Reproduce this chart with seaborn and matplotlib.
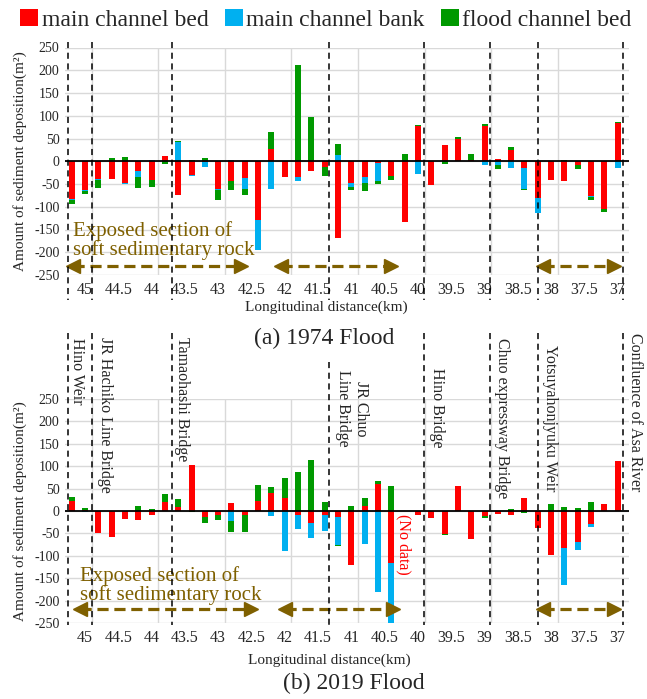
import numpy as np
import pandas as pd
import matplotlib
matplotlib.use("Agg")
import matplotlib.pyplot as plt
import matplotlib.transforms as mtransforms
from matplotlib.lines import Line2D
from matplotlib.patches import Patch
import seaborn as sns

# distance of each cross section (km)
km = [45.2, 45.0, 44.8, 44.6, 44.4, 44.2, 44.0, 43.8, 43.6, 43.4, 43.2, 43.0, 42.8, 42.6,
      42.4, 42.2, 42.0, 41.8, 41.6, 41.4, 41.2, 41.0, 40.8, 40.6, 40.4, 40.2, 40.0, 39.8,
      39.6, 39.4, 39.2, 39.0, 38.8, 38.6, 38.4, 38.2, 38.0, 37.8, 37.6, 37.4, 37.2, 37.0]

# 1974 flood
bed_1974 = [-82, -63, -38, -39, -47, -21, -42, 12, -75, -31, -2, -61, -44, -37,
            -130, 27, -35, -34, -22, -12, -169, -48, -35, -4, -32, -134, 77, -53,
            35, 50, 2, 78, 5, 25, -15, -80, -42, -44, -9, -76, -105, 83]
bank_1974 = [-4, -3, -4, 0, -4, -13, 3, 0, 42, -1, -10, -2, 2, -25,
             -64, -60, 0, -10, 0, 0, 13, -8, -13, -39, 0, 0, -28, 0,
             0, 0, 0, -8, -8, -15, -45, -34, 0, 0, 0, -3, 0, -14]
flood_1974 = [-9, -5, -16, 8, 10, -24, -15, -5, 3, 2, 7, -22, -20, -13,
              0, 38, 0, 212, 98, -20, 26, -7, -18, -7, -10, 15, 3, 0,
              -5, 3, 15, 4, -10, 6, -3, 0, 0, 3, -7, -6, -7, 3]

# 2019 flood (40.2 km: no data)
bed_2019 = [22, 3, -50, -59, -17, -21, -8, 21, 8, 102, -13, -10, 18, -8,
            23, 40, 30, -10, -27, -8, -13, -120, 12, 60, -116, 0, -8, -15,
            -52, 55, -62, -12, -6, -8, 30, -37, -98, -83, -70, -28, 16, 112]
bank_2019 = [0, -2, 0, 0, 0, 0, 0, 0, 0, 0, 0, 0, -23, 0,
             0, -12, -90, -30, -33, -37, -62, 0, -73, -181, -150, 0, 0, 0,
             0, 0, 0, 0, 0, 0, 0, 0, 0, -82, -16, -7, 0, 0]
flood_2019 = [10, 3, 0, 0, 0, 12, 5, 16, 19, -3, -13, -10, -23, -38,
              34, 14, 43, 87, 114, 20, -3, 12, 18, 8, 55, 0, 0, 0,
              -2, 0, 0, -3, 0, 5, -5, 0, 15, 9, 7, 21, 0, 0]

tick_km = [45, 44.5, 44, 43.5, 43, 42.5, 42, 41.5, 41, 40.5, 40, 39.5, 39, 38.5, 38, 37.5, 37]
tick_labels = ["45", "44.5", "44", "43.5", "43", "42.5", "42", "41.5", "41", "40.5",
               "40", "39.5", "39", "38.5", "38", "37.5", "37"]
grid_km = [44.9, 43.9, 42.9, 41.9, 40.9, 39.9, 38.9, 37.9]

landmarks = ["Hino Weir", "JR Hachiko Line Bridge", "Tamaohashi Bridge", "JR Chuo\nLine Bridge",
             "Hino Bridge", "Chuo expressway Bridge", "Yotsuyahonjyuku Weir", "Confluence of Asa River"]
landmark_km = [45.26, 44.89, 43.70, 41.34, 39.91, 38.91, 38.19, 36.92]

series = ["main channel bed", "main channel bank", "flood channel bed"]
colors = ["#FF0000", "#00B0F0", "#009900"]

sns.set_theme(style="white")
plt.rcParams["font.family"] = ["Liberation Serif", "DejaVu Serif"]
plt.rcParams["axes.unicode_minus"] = False

W, H = 647, 699
fig = plt.figure(figsize=(W / 100, H / 100), dpi=100)
ax_a = fig.add_axes([65 / W, 1 - 275 / H, 564 / W, 227.5 / H])
ax_b = fig.add_axes([65 / W, 1 - 623 / H, 564 / W, 224 / H])

brown = "#7F6000"


def draw_panel(ax, bed, bank, flood):
    vals = np.array([bed, bank, flood], dtype=float)
    pos = np.cumsum(np.clip(vals, 0, None), axis=0)
    neg = np.cumsum(np.clip(vals, None, 0), axis=0)
    # outermost layer first so the inner layers sit on top of it
    for i in [2, 1, 0]:
        for stack in (pos, neg):
            df = pd.DataFrame({"km": km, "v": stack[i]})
            sns.barplot(data=df, x="km", y="v", native_scale=True, width=0.45,
                        color=colors[i], saturation=1, errorbar=None,
                        linewidth=0, edgecolor="none", ax=ax)
    ax.axhline(0, color="black", lw=1.3, zorder=3)
    ax.set_xlim(45.3, 36.83)
    ax.set_ylim(-250, 250)
    ax.set_yticks(range(-250, 251, 50))
    ax.set_xticks(tick_km)
    ax.set_xticklabels(tick_labels, fontsize=11.5)
    ax.set_xticks(grid_km, minor=True)
    ax.tick_params(axis="y", labelsize=10, length=0, pad=4)
    ax.tick_params(axis="x", which="both", length=0, pad=5)
    ax.grid(True, which="major", axis="y", color="#D9D9D9", lw=1)
    ax.grid(True, which="minor", axis="x", color="#D9D9D9", lw=1)
    ax.grid(False, which="major", axis="x")
    ax.set_axisbelow(True)
    for s in ax.spines.values():
        s.set_visible(False)
    ax.set_xlabel("")
    ax.set_ylabel("Amount of sediment deposition(m²)", fontsize=11)
    ax.yaxis.set_label_coords(-0.068, 0.5)


def draw_arrow(ax, x0, x1, y):
    ax.plot([x0, x1], [y, y], color=brown, lw=2.3, ls=(0, (3.5, 1.8)), zorder=4)
    ax.plot([x0], [y], marker="<", color=brown, ms=10, zorder=5)
    ax.plot([x1], [y], marker=">", color=brown, ms=10, zorder=5)


draw_panel(ax_a, bed_1974, bank_1974, flood_1974)
draw_panel(ax_b, bed_2019, bank_2019, flood_2019)

# exposed soft rock sections
ax_a.text(45.18, -175, "Exposed section of\nsoft sedimentary rock", color=brown,
          fontsize=15, ha="left", va="center", linespacing=0.95)
for x0, x1 in [(45.18, 42.65), (42.05, 40.41), (38.12, 37.06)]:
    draw_arrow(ax_a, x0, x1, -230)
ax_b.text(45.07, -167, "Exposed section of\nsoft sedimentary rock", color=brown,
          fontsize=15, ha="left", va="center", linespacing=0.95)
for x0, x1 in [(45.08, 42.51), (42.0, 40.37), (38.12, 37.06)]:
    draw_arrow(ax_b, x0, x1, -218)
ax_b.text(40.22, -6, "(No data)", color="#FF0000", fontsize=11.5, rotation=-90,
          ha="center", va="top")

# landmark dashed lines spanning both panels
trans = mtransforms.blended_transform_factory(ax_a.transData, fig.transFigure)
lower_top = [333, 333, 333, 362, 333, 333, 333, 333]
for k, yt in zip(landmark_km, lower_top):
    for y0, y1 in [(42, 300), (yt, 625)]:
        fig.add_artist(Line2D([k, k], [1 - y0 / H, 1 - y1 / H], transform=trans,
                              color="black", lw=1.1, ls=(0, (4, 3)), clip_on=False))

label_pos = [(77, 338), (105, 337), (182, 337), (352, 370), (437, 368), (502, 338),
             (550, 345), (635, 333)]
for name, (px, py) in zip(landmarks, label_pos):
    fig.text(px / W, 1 - py / H, name, rotation=-90, ha="center", va="top",
             fontsize=11.5, linespacing=1.1)

fig.text(326 / W, 1 - 307 / H, "Longitudinal distance(km)", ha="center", va="center", fontsize=11)
fig.text(324 / W, 1 - 338 / H, "(a) 1974 Flood", ha="center", va="center", fontsize=17)
fig.text(329 / W, 1 - 660 / H, "Longitudinal distance(km)", ha="center", va="center", fontsize=11)
fig.text(354 / W, 1 - 683 / H, "(b) 2019 Flood", ha="center", va="center", fontsize=17)

handles = [Patch(facecolor=c, edgecolor="none") for c in colors]
fig.legend(handles, series, loc="center", bbox_to_anchor=(326 / W, 1 - 20 / H), ncol=3,
           frameon=False, fontsize=17, handlelength=0.75, handleheight=0.75,
           handletextpad=0.15, columnspacing=0.7, borderaxespad=0, borderpad=0)

fig.savefig("out.png", dpi=100)
